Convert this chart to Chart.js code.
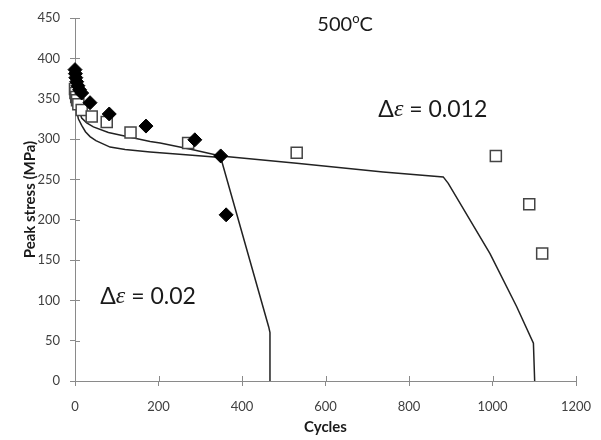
<!DOCTYPE html>
<html><head><meta charset="utf-8">
<script src="https://cdn.jsdelivr.net/npm/chart.js@4.4.1/dist/chart.umd.min.js"></script>
<style>html,body{margin:0;padding:0;background:#fff}</style>
</head><body>
<canvas id="c" width="601" height="440"></canvas>
<script>
// Experimental data, strain range 0.02 (filled diamonds)
const expCycles002 = [0, 1, 2, 4, 7, 11, 16, 36, 82, 170, 287, 349, 362];
const expStress002 = [386, 381, 376, 371, 366, 361, 357, 345, 331, 316, 299, 279, 206];
// Experimental data, strain range 0.012 (open squares)
const expCycles0012 = [0, 1, 3, 5, 8, 16, 40, 76, 133, 271, 531, 1008, 1088, 1119];
const expStress0012 = [362, 357, 352, 348, 343, 336, 328, 321, 308, 295, 283, 279, 219, 158];
// Model curve, strain range 0.02
const modCycles002 = [0.5, 2, 4, 8, 16, 25, 36, 50, 84, 120, 180, 250, 349, 464, 467, 467];
const modStress002 = [372, 350, 336, 325, 317, 309, 303, 298, 290, 287, 284, 281, 277, 67, 60, 0];
// Model curve, strain range 0.012
const modCycles0012 = [0.5, 2, 4, 8, 16, 28, 44, 80, 124, 180, 204, 280, 349, 531, 738, 882, 894, 994, 1058, 1098, 1101];
const modStress0012 = [378, 360, 350, 338, 326, 320, 315, 308, 303, 297, 295, 287, 279, 270, 259, 253, 245, 158, 92, 47, 0];
// Axis ticks
const xTicks = [0, 200, 400, 600, 800, 1000, 1200];
const yTicks = [0, 50, 100, 150, 200, 250, 300, 350, 400, 450];
// Annotations (data coordinates)
const labelTemp = {x: 647, y: 442};
const labelD0012 = {x: 857, y: 336, value: '0.012'};
const labelD002 = {x: 175, y: 105, value: '0.02'};

const pts = (xs, ys) => xs.map((x, i) => ({x, y: ys[i]}));
const AXIS = '#8a8a8a';
const SANS = 'Lato, "Open Sans", sans-serif';

const innerTicks = {
  id: 'innerTicks',
  beforeDatasetsDraw(chart) {
    const {ctx, chartArea, scales} = chart;
    ctx.save();
    ctx.strokeStyle = AXIS; ctx.lineWidth = 1;
    xTicks.forEach(v => {
      const px = Math.round(scales.x.getPixelForValue(v)) + 0.5;
      ctx.beginPath(); ctx.moveTo(px, chartArea.bottom); ctx.lineTo(px, chartArea.bottom - 5); ctx.stroke();
    });
    yTicks.forEach(v => {
      const py = Math.round(scales.y.getPixelForValue(v)) + 0.5;
      ctx.beginPath(); ctx.moveTo(chartArea.left, py); ctx.lineTo(chartArea.left + 5, py); ctx.stroke();
    });
    ctx.restore();
  }
};

function drawSegments(ctx, segs, cx, cy) {
  let total = 0;
  segs.forEach(s => { ctx.font = s.font; s.w = ctx.measureText(s.t).width; total += s.w; });
  let x = cx - total / 2;
  segs.forEach(s => {
    ctx.font = s.font;
    ctx.fillText(s.t, x, cy + (s.dy || 0));
    x += s.w;
  });
}

const annotations = {
  id: 'annotations',
  afterDraw(chart) {
    const {ctx, scales} = chart;
    ctx.save();
    ctx.fillStyle = '#1a1a1a';
    ctx.textBaseline = 'middle';
    ctx.textAlign = 'left';
    const ft = '20px ' + SANS;
    const fs = '13px ' + SANS;
    const f = '23px ' + SANS;
    const fe = 'italic 24px "Liberation Serif", "DejaVu Serif", serif';
    drawSegments(ctx, [{t: '500', font: ft}, {t: 'o', font: fs, dy: -6}, {t: 'C', font: ft}],
      scales.x.getPixelForValue(labelTemp.x), scales.y.getPixelForValue(labelTemp.y));
    [labelD0012, labelD002].forEach(l => {
      drawSegments(ctx, [{t: 'Δ', font: f}, {t: 'ε', font: fe}, {t: ' = ' + l.value, font: f}],
        scales.x.getPixelForValue(l.x), scales.y.getPixelForValue(l.y));
    });
    ctx.restore();
  }
};

new Chart(document.getElementById('c'), {
  type: 'scatter',
  data: {
    datasets: [
      {label: 'exp 0.02', data: pts(expCycles002, expStress002), order: 0, clip: false,
       pointStyle: 'rectRot', pointRadius: 7, backgroundColor: '#000', borderColor: '#000', borderWidth: 1, showLine: false},
      {label: 'exp 0.012', data: pts(expCycles0012, expStress0012), order: 1, clip: false,
       pointStyle: 'rect', pointRadius: 7.8, backgroundColor: '#fff', borderColor: '#444', borderWidth: 1.5, showLine: false},
      {label: 'model 0.02', data: pts(modCycles002, modStress002), order: 2,
       showLine: true, pointRadius: 0, borderColor: '#222', borderWidth: 1.5, tension: 0, fill: false},
      {label: 'model 0.012', data: pts(modCycles0012, modStress0012), order: 3,
       showLine: true, pointRadius: 0, borderColor: '#222', borderWidth: 1.5, tension: 0, fill: false}
    ]
  },
  options: {
    responsive: false,
    animation: false,
    layout: {padding: {left: 0, right: 25, top: 18, bottom: 0}},
    plugins: {legend: {display: false}, tooltip: {enabled: false}},
    scales: {
      x: {
        type: 'linear', min: 0, max: 1200,
        afterBuildTicks: s => { s.ticks = xTicks.map(v => ({value: v})); },
        afterFit: s => { s.height = 59; s.paddingLeft = 0; s.paddingRight = 0; },
        grid: {display: true, drawOnChartArea: false, drawTicks: true, tickLength: 5, color: AXIS},
        border: {display: true, color: AXIS, width: 1},
        ticks: {color: '#404040', font: {family: SANS, size: 13}, padding: 13, maxRotation: 0, callback: v => String(v)},
        title: {display: true, text: 'Cycles', color: '#1a1a1a', font: {family: SANS, size: 15, weight: 'bold'}, padding: {top: 0, bottom: 4}}
      },
      y: {
        type: 'linear', min: 0, max: 450,
        afterBuildTicks: s => { s.ticks = yTicks.map(v => ({value: v})); },
        afterFit: s => { s.width = 75; s.paddingTop = 0; s.paddingBottom = 0; },
        grid: {display: true, drawOnChartArea: false, drawTicks: true, tickLength: 5, color: AXIS},
        border: {display: true, color: AXIS, width: 1},
        ticks: {color: '#404040', font: {family: SANS, size: 13}, padding: 10, callback: v => String(v)},
        title: {display: true, text: 'Peak stress (MPa)', color: '#1a1a1a', font: {family: SANS, size: 15, weight: 'bold'}, padding: {top: 21, bottom: 0}}
      }
    }
  },
  plugins: [innerTicks, annotations]
});
</script>
</body></html>
